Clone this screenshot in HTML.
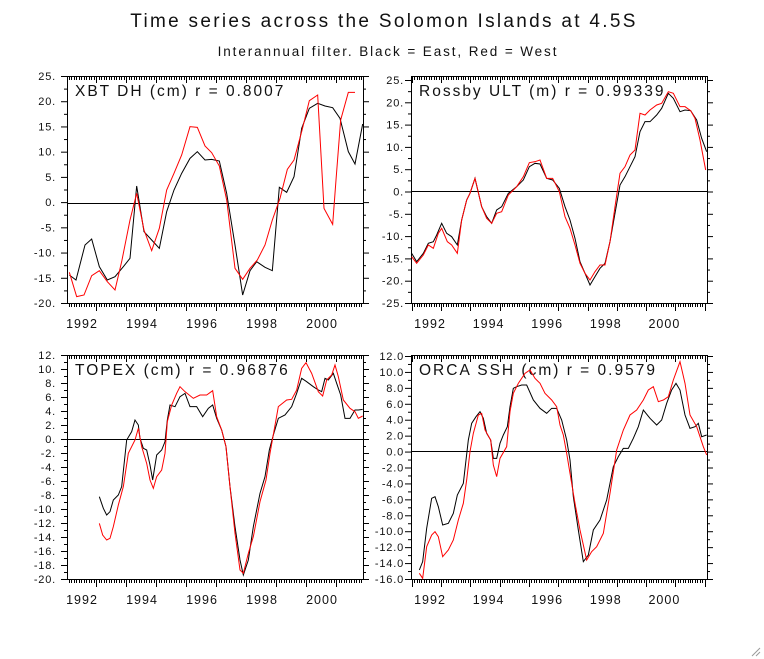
<!DOCTYPE html><html><head><meta charset="utf-8"><style>
body{margin:0;background:#fff;width:764px;height:659px;overflow:hidden}
svg{display:block}
text{font-family:"Liberation Sans",sans-serif;fill:#111}
</style></head><body>
<svg id="s" width="764" height="659" xmlns="http://www.w3.org/2000/svg">
<text x="384" y="27" font-size="19" letter-spacing="2.3" text-anchor="middle">Time series across the Solomon Islands at 4.5S</text>
<text x="388" y="56" font-size="13.5" letter-spacing="1.9" text-anchor="middle">Interannual filter. Black = East, Red = West</text>
</svg>
<script>
const S=document.getElementById('s');const NS='http://www.w3.org/2000/svg';
function el(t,a,p){const e=document.createElementNS(NS,t);for(const k in a)e.setAttribute(k,a[k]);(p||S).appendChild(e);return e;}
function txt(x,y,s,sz,anc,ls){const e=el('text',{x:x,y:y,'font-size':sz,'text-anchor':anc||'start','letter-spacing':ls||0});e.textContent=s;}
function pl(ox,oy,pts,col){let d=[];for(let i=0;i<pts.length;i+=2)d.push((ox+pts[i]/3).toFixed(2)+','+(oy+pts[i+1]/3).toFixed(2));el('polyline',{points:d.join(' '),fill:'none',stroke:col,'stroke-width':1});}
function panel(P){
 const {x0,x1,yt,yb,v0,v1,step,fmt,lblR,tick0,yr,yrLbl0,title}=P;
 el('rect',{x:x0+.5,y:yt+.5,width:x1-x0,height:yb-yt,fill:'none',stroke:'#000','stroke-width':1});
 const n=Math.round((v1-v0)/step);const ya=P.ya,yb2=P.yb2;
 for(let i=0;i<=n;i++){const v=v1-i*step;const y=ya+(yb2-ya)*i/n;
  el('line',{x1:x0-6,y1:y+.5,x2:x0,y2:y+.5,stroke:'#000'});
  el('line',{x1:x1,y1:y+.5,x2:x1+6,y2:y+.5,stroke:'#000'});
  txt(lblR,y+4,fmt(v),11,'end',0.8);
  if(i<n){const ym=y+(yb2-ya)/n/2;el('line',{x1:x0-3,y1:ym+.5,x2:x0,y2:ym+.5,stroke:'#000'});el('line',{x1:x1,y1:ym+.5,x2:x1+3,y2:ym+.5,stroke:'#000'});}
 }
 for(let x=tick0-yr*2;x<=x1;x+=yr/12){if(x<x0)continue;const xx=Math.round(x)+.5;
  el('line',{x1:xx,y1:yt,x2:xx,y2:yt+4,stroke:'#000'});el('line',{x1:xx,y1:yb,x2:xx,y2:yb+4,stroke:'#000'});}
 for(let k=-1;k<11;k++){const x=tick0+k*yr;if(x<x0||x>x1)continue;const xx=Math.round(x)+.5;
  el('line',{x1:xx,y1:yt,x2:xx,y2:yt+7,stroke:'#000'});el('line',{x1:xx,y1:yb,x2:xx,y2:yb+8,stroke:'#000'});}
 for(let k=0;k<5;k++)txt(yrLbl0+k*2*yr,P.ly,String(1992+2*k),12.5,'middle',1);
 el('line',{x1:x0,y1:P.zero+.5,x2:x1,y2:P.zero+.5,stroke:'#000'});
 txt(x0+8,yt+20,title,15.5,'start',2);
}
const f0=v=>v+'.';const f1=v=>v.toFixed(1);
panel({x0:67,x1:363,yt:76,yb:303,v0:-20,v1:25,step:5,fmt:f0,lblR:56,ya:76,yb2:303,tick0:96,yr:30,yrLbl0:82,ly:328,zero:203,title:'XBT DH (cm) r = 0.8007'});
panel({x0:411,x1:707,yt:76,yb:303,v0:-25,v1:25,step:5,fmt:f0,lblR:404,ya:80,yb2:303,tick0:441,yr:29.3,yrLbl0:430,ly:328,zero:191,title:'Rossby ULT (m) r = 0.99339'});
panel({x0:67,x1:363,yt:355,yb:579,v0:-20,v1:12,step:2,fmt:f0,lblR:56,ya:355,yb2:579,tick0:96,yr:30,yrLbl0:82,ly:604,zero:439,title:'TOPEX (cm) r = 0.96876'});
panel({x0:411,x1:707,yt:355,yb:579,v0:-16,v1:12,step:2,fmt:f1,lblR:404,ya:356,yb2:579,tick0:441,yr:29.3,yrLbl0:430,ly:604,zero:451,title:'ORCA SSH (cm) r = 0.9579'});
pl(20,60,[148,645,168,660,195,555,215,537,238,620,262,660,285,650,310,620,330,595,350,378,372,515,395,540,418,565,440,455,462,390,485,340,510,295,532,275,555,300,575,298,598,303,620,400,645,555,668,705,690,632,710,605,735,622,757,632,778,382,800,397,822,350,845,205,868,145,893,130,915,138,938,143,960,175,985,275,1005,312,1028,192],'#000');
pl(20,60,[148,637,170,710,192,705,215,647,238,632,262,665,285,690,305,605,330,480,350,400,372,510,395,572,418,505,440,390,462,340,485,285,510,200,532,202,555,258,575,278,598,318,620,420,645,625,668,658,690,625,712,600,735,555,757,480,780,415,802,328,822,300,845,215,868,122,893,105,912,445,938,493,948,360,962,180,985,97,1005,97],'#f00');
pl(370,60,[125,580,140,605,160,580,175,550,190,545,200,525,215,490,230,520,245,530,262,555,275,480,290,420,300,400,315,355,335,440,350,470,365,490,380,450,395,440,415,400,440,380,460,360,478,320,495,310,510,312,530,355,548,360,568,385,585,440,600,480,615,535,630,605,645,640,660,675,675,650,690,625,705,610,720,545,735,460,750,375,765,350,780,320,795,290,810,215,825,185,840,185,860,165,875,145,895,100,910,115,930,155,945,150,962,152,980,180,995,235,1010,275],'#000');
pl(370,60,[125,590,140,610,160,585,175,555,190,565,205,520,215,505,232,545,245,555,262,580,275,480,290,420,300,400,315,355,335,440,350,475,365,490,380,460,395,455,415,405,440,380,460,350,478,308,495,305,510,300,530,355,548,355,568,395,585,470,600,505,615,555,630,610,645,640,660,660,675,635,690,615,705,615,720,545,735,440,750,340,765,320,780,285,795,270,810,160,825,165,840,150,860,135,875,130,895,95,910,100,930,140,945,140,962,152,975,175,990,240,1007,330],'#f00');
pl(20,340,[238,470,250,505,260,525,270,515,280,480,295,465,305,440,320,300,335,275,345,240,355,255,360,295,370,325,380,330,390,375,398,420,410,345,425,330,435,305,442,240,450,195,465,200,480,170,495,160,510,200,530,200,548,230,565,205,578,195,590,235,605,270,618,320,630,440,645,560,660,660,670,705,685,660,700,560,720,460,735,410,748,330,760,285,775,235,795,225,815,200,830,160,845,115,860,125,880,140,895,150,905,155,915,115,925,120,940,100,950,130,962,165,975,235,990,235,1005,210,1015,210,1028,208],'#000');
pl(20,340,[238,550,248,585,260,600,270,595,280,560,295,495,310,440,325,340,345,300,355,265,365,320,380,370,390,420,400,445,410,410,425,390,435,340,442,245,455,195,470,160,480,140,495,155,520,175,540,165,560,165,578,152,590,230,605,270,618,320,630,440,645,580,660,690,670,700,685,640,700,590,720,485,738,420,750,340,775,200,800,180,815,178,830,150,845,85,858,68,875,100,895,155,908,168,920,120,935,105,945,75,955,110,970,180,990,205,1005,215,1015,235,1028,228],'#f00');
pl(370,340,[148,690,158,665,170,565,185,475,195,470,205,500,218,555,235,550,250,520,262,465,280,430,295,300,305,250,318,230,330,215,340,235,350,280,362,300,370,355,380,355,390,310,400,285,412,260,420,200,430,145,440,140,455,135,470,135,490,180,510,205,530,220,545,205,560,205,575,240,590,300,600,360,610,470,625,570,640,665,655,645,670,570,690,540,710,480,730,380,745,350,760,325,775,325,790,295,805,260,820,210,840,235,860,255,875,240,890,190,905,150,918,130,930,150,945,225,960,265,975,260,985,250,995,290,1010,285],'#000');
pl(370,340,[148,700,158,715,170,620,185,585,195,575,205,590,218,650,235,630,250,600,265,540,280,490,290,420,300,335,310,280,325,225,335,220,345,270,362,300,370,375,380,410,390,355,410,320,420,215,430,160,445,130,465,100,480,90,495,115,510,130,525,160,545,180,560,200,570,255,580,285,590,340,600,400,615,490,630,570,650,660,665,635,680,620,700,580,720,460,740,330,760,270,780,225,800,210,820,180,835,150,850,140,865,185,880,180,895,170,910,120,930,65,945,130,960,225,980,260,1000,320,1010,345],'#f00');
el('line',{x1:752,y1:656,x2:760,y2:648,stroke:'#999'});el('line',{x1:756,y1:656,x2:760,y2:652,stroke:'#999'});
</script>
</body></html>
